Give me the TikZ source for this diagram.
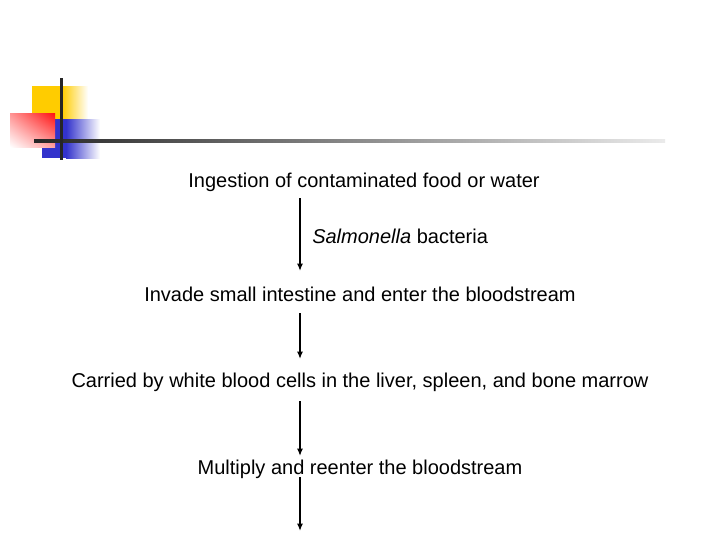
\documentclass[tikz,border=0pt]{standalone}
\usepackage{fontspec}
\setmainfont{Liberation Sans}
\usetikzlibrary{arrows.meta,shadings}
\definecolor{logoyellow}{HTML}{FFCC00}
\definecolor{logoblue}{HTML}{3333CC}
\definecolor{logored}{HTML}{FF1010}
\tikzset{
  steptext/.style={anchor=base, inner sep=0pt, font=\fontsize{15pt}{18pt}\selectfont},
  flowarrow/.style={line width=1.1pt, -{Latex[length=5.5pt,width=4.5pt]}}
}
\begin{document}
\begin{tikzpicture}[x=0.75pt,y=-0.75pt]
\useasboundingbox (0,0) rectangle (720,540);
% logo
\fill[logoyellow] (32,86) rectangle (62,119);
\shade[left color=logoyellow, right color=white] (62,86) rectangle (88,119);
\fill[logoblue] (42,119) rectangle (66,158);
\shade[left color=logoblue, right color=white] (66,119) rectangle (100,158);
\shade[upper right=logored, upper left=logored!45, lower right=logored!40, lower left=white] (10,113) rectangle (55,147);
\shade[left color=black!85, right color=black!8] (34,139.5) rectangle (665,142.5);
\fill[black!85] (59.5,78) rectangle (62.5,160);
% texts
\node[steptext] (n1) at (364,187) {Ingestion of contaminated food or water};
\node[steptext, anchor=base west] (lab) at (312,243.5) {\textit{Salmonella} bacteria};
\node[steptext] (n2) at (360,301.5) {Invade small intestine and enter the bloodstream};
\node[steptext] (n3) at (360,387.5) {Carried by white blood cells in the liver, spleen, and bone marrow};
\node[steptext] (n4) at (360,474.5) {Multiply and reenter the bloodstream};
% arrow coordinates
\coordinate (a1s) at (300,198);
\coordinate (a1e) at (300,271);
\coordinate (a2s) at (300,313);
\coordinate (a2e) at (300,359);
\coordinate (a3s) at (300,401);
\coordinate (a3e) at (300,456);
\coordinate (a4s) at (300,477);
\coordinate (a4e) at (300,531);
\draw[flowarrow] (a1s) -- (a1e);
\draw[flowarrow] (a2s) -- (a2e);
\draw[flowarrow] (a3s) -- (a3e);
\draw[flowarrow] (a4s) -- (a4e);
\end{tikzpicture}
\end{document}
